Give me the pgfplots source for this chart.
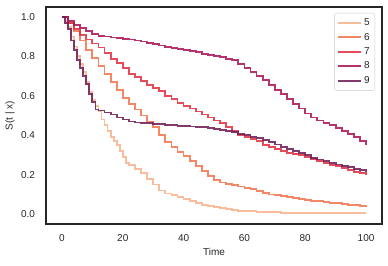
\documentclass[border=0pt]{standalone}
\usepackage{pgfplots}
\pgfplotsset{compat=1.18}
\usepackage{fontspec}
\setmainfont{Liberation Sans}
\definecolor{cA}{HTML}{F6B48F}
\definecolor{cB}{HTML}{F37651}
\definecolor{cC}{HTML}{E13342}
\definecolor{cD}{HTML}{AD1759}
\definecolor{cE}{HTML}{701F57}
\definecolor{txt}{HTML}{262626}
\begin{document}
\begin{tikzpicture}
\begin{axis}[
  scale only axis, width=336pt, height=217pt,
  xmin=-5.25, xmax=105.25, ymin=-0.05, ymax=1.05,
  xtick={0,20,40,60,80,100}, ytick={0,0.2,0.4,0.6,0.8,1.0},
  major tick length=0pt,
  axis line style={color=txt, line width=1.1pt},
  /pgf/number format/assume math mode=true,
  ticklabel style={font=\fontsize{10}{12}\selectfont, text=txt},
  yticklabel style={/pgf/number format/fixed, /pgf/number format/precision=1, /pgf/number format/fixed zerofill, xshift=-7.5pt},
  xticklabel style={yshift=-7pt},
  xlabel={Time}, ylabel={S(t | x)},
  label style={font=\fontsize{10}{12}\selectfont, text=txt},
  xlabel style={at={(axis description cs:0.5,-0.128)}, anchor=center},
  ylabel style={at={(axis description cs:-0.107,0.5)}, anchor=center},
  every axis plot/.append style={const plot, line width=1.8pt, opacity=0.88, mark=none},
  legend image code/.code={\draw[#1] (0pt,0pt) -- (23pt,0pt);},
  legend cell align=left,
  legend style={at={(1,1)}, anchor=north east, xshift=-7pt, yshift=-6pt,
    draw=black!20, rounded corners=2pt, fill=white, fill opacity=0.8, text opacity=1,
    font=\fontsize{10}{12}\selectfont, text=txt, row sep=2pt, inner xsep=3pt, inner ysep=3.5pt},
]
\addplot[color=cA] coordinates {
(0,1.0)(1,0.98)(2,0.95)(3,0.90)(4,0.85)(5,0.80)(6,0.76)(7,0.72)(8,0.67)(9,0.62)(10,0.58)(11,0.55)(12,0.52)(13,0.48)(14,0.45)(15,0.42)(16,0.39)(17,0.37)(18,0.35)(19,0.32)(20,0.29)(21,0.26)(22,0.25)(24,0.23)(26,0.21)(28,0.18)(30,0.15)(32,0.12)(34,0.105)(36,0.095)(38,0.085)(40,0.075)(42,0.065)(44,0.055)(46,0.048)(48,0.042)(50,0.037)(52,0.033)(54,0.028)(56,0.022)(58,0.017)(60,0.015)(64,0.012)(68,0.01)(72,0.007)(76,0.005)(100,0.005)};
\addlegendentry{5}
\addplot[color=cB] coordinates {
(0,1.0)(2,0.97)(4,0.93)(6,0.88)(8,0.83)(10,0.79)(12,0.75)(14,0.71)(16,0.67)(18,0.63)(20,0.59)(22,0.56)(24,0.53)(26,0.50)(28,0.47)(30,0.44)(32,0.40)(34,0.365)(36,0.34)(38,0.315)(40,0.295)(42,0.27)(44,0.245)(46,0.22)(48,0.195)(50,0.175)(52,0.16)(54,0.152)(56,0.146)(58,0.14)(60,0.133)(62,0.126)(64,0.117)(66,0.108)(68,0.10)(70,0.095)(72,0.09)(74,0.085)(76,0.08)(78,0.075)(80,0.072)(82,0.068)(84,0.065)(86,0.062)(88,0.058)(90,0.055)(92,0.052)(94,0.048)(96,0.045)(98,0.042)(100,0.04)};
\addlegendentry{6}
\addplot[color=cC] coordinates {
(0,1.0)(2,0.97)(4,0.94)(6,0.91)(8,0.885)(10,0.865)(12,0.845)(14,0.815)(16,0.785)(18,0.765)(20,0.74)(22,0.71)(24,0.695)(26,0.675)(28,0.655)(30,0.64)(32,0.625)(34,0.60)(36,0.585)(38,0.565)(40,0.55)(42,0.535)(44,0.52)(46,0.505)(48,0.49)(50,0.475)(52,0.46)(54,0.44)(56,0.42)(58,0.40)(60,0.39)(62,0.38)(64,0.37)(66,0.35)(68,0.34)(70,0.33)(72,0.32)(74,0.31)(76,0.305)(78,0.30)(80,0.29)(82,0.28)(84,0.27)(86,0.26)(88,0.25)(90,0.245)(92,0.235)(94,0.225)(96,0.215)(98,0.21)(100,0.20)};
\addlegendentry{7}
\addplot[color=cD] coordinates {
(0,1.0)(2,0.98)(4,0.96)(6,0.945)(8,0.93)(10,0.915)(12,0.905)(14,0.90)(16,0.895)(18,0.892)(20,0.888)(22,0.885)(24,0.88)(26,0.875)(28,0.868)(30,0.862)(32,0.855)(34,0.848)(36,0.842)(38,0.837)(40,0.832)(42,0.826)(44,0.82)(46,0.813)(48,0.807)(50,0.80)(52,0.795)(54,0.788)(56,0.78)(58,0.76)(60,0.74)(62,0.72)(64,0.70)(66,0.68)(68,0.655)(70,0.63)(72,0.61)(74,0.585)(76,0.56)(78,0.535)(80,0.51)(82,0.49)(84,0.475)(86,0.46)(88,0.45)(90,0.435)(92,0.42)(94,0.405)(96,0.39)(98,0.37)(100,0.35)};
\addlegendentry{8}
\addplot[color=cE] coordinates {
(0,1.0)(1,0.97)(2,0.94)(3,0.88)(4,0.83)(5,0.78)(6,0.74)(7,0.70)(8,0.66)(9,0.61)(10,0.57)(11,0.53)(12,0.525)(14,0.515)(16,0.505)(18,0.49)(20,0.48)(22,0.47)(24,0.465)(26,0.462)(28,0.46)(30,0.457)(32,0.455)(34,0.453)(36,0.45)(38,0.448)(40,0.446)(42,0.444)(44,0.442)(46,0.44)(48,0.436)(50,0.432)(52,0.428)(54,0.423)(56,0.415)(58,0.408)(60,0.40)(62,0.393)(64,0.385)(66,0.375)(68,0.365)(70,0.353)(72,0.34)(74,0.33)(76,0.32)(78,0.31)(80,0.30)(82,0.285)(84,0.277)(86,0.268)(88,0.259)(90,0.252)(92,0.245)(94,0.237)(96,0.23)(98,0.222)(100,0.212)};
\addlegendentry{9}
\end{axis}
\path[use as bounding box] ([xshift=-46pt,yshift=-41pt]current axis.south west) rectangle ([xshift=6pt,yshift=7pt]current axis.north east);
\end{tikzpicture}
\end{document}
